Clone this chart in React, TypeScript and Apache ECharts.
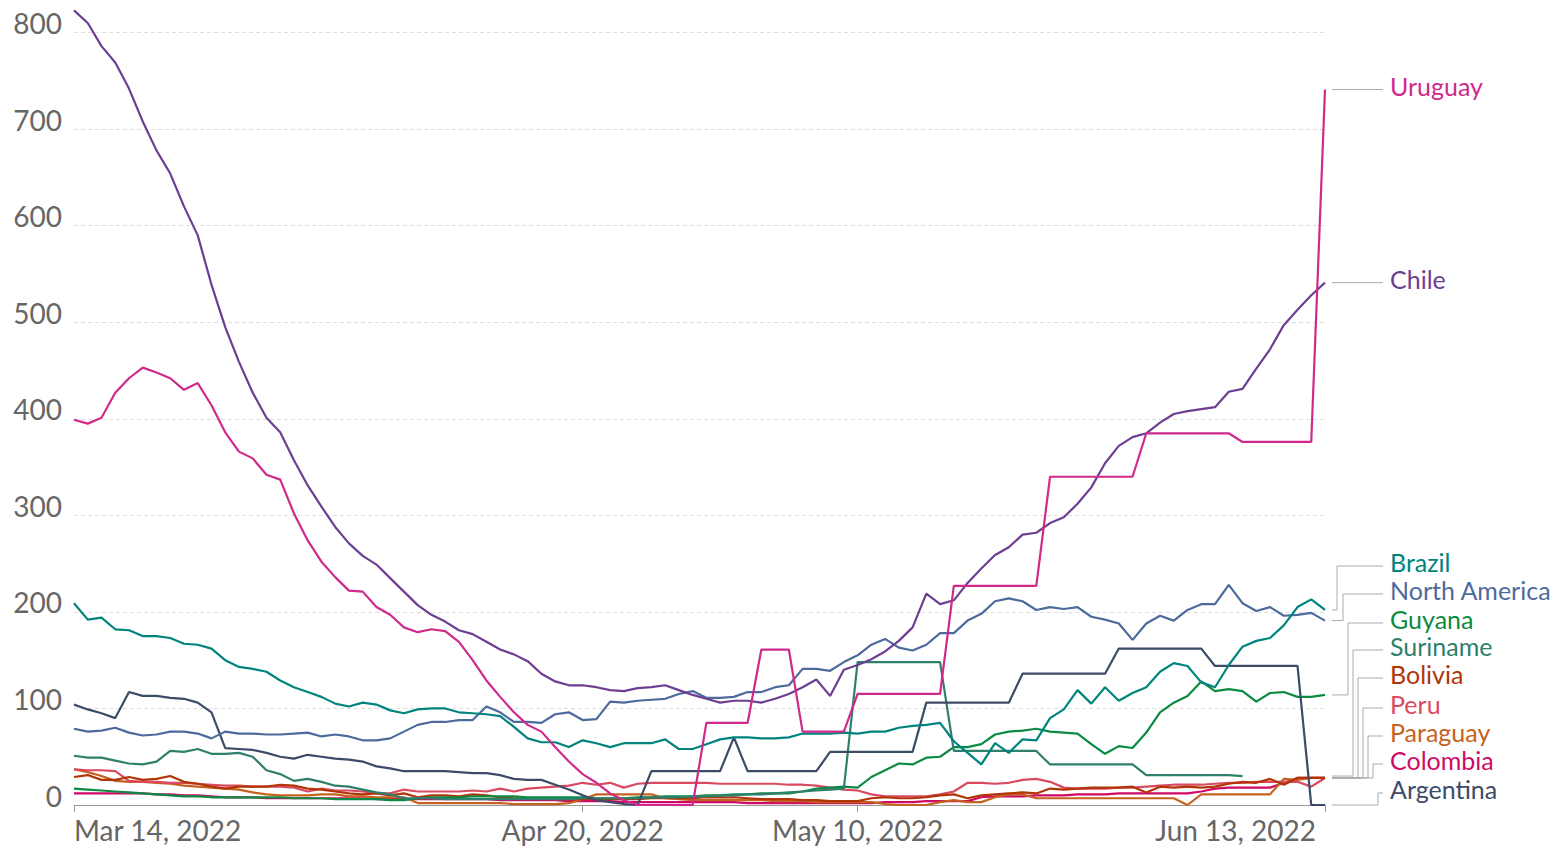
import React, { useEffect, useRef } from 'react';
import * as echarts from 'echarts';

const MONTHS = ['Jan', 'Feb', 'Mar', 'Apr', 'May', 'Jun', 'Jul', 'Aug', 'Sep', 'Oct', 'Nov', 'Dec'];
const DAY_COUNT = 92;
const dates: string[] = Array.from({ length: DAY_COUNT }, (_, i) => {
  const d = new Date(2022, 2, 14 + i);
  return `${MONTHS[d.getMonth()]} ${d.getDate()}, ${d.getFullYear()}`;
});
const tickLabels = ['Mar 14, 2022', 'Apr 20, 2022', 'May 10, 2022', 'Jun 13, 2022'];
const yTicks = [0, 100, 200, 300, 400, 500, 600, 700, 800];

const chile = [823, 810, 786, 769, 742, 708, 678, 654, 620, 590,
  539, 495, 459, 427, 401, 386, 357, 331, 309, 288,
  271, 258, 249, 235, 221, 207, 197, 190, 181, 177,
  169, 161, 156, 149, 136, 128, 124, 124, 122, 119,
  118, 121, 122, 124, 119, 114, 110, 106, 108, 108,
  106, 110, 115, 122, 130, 113, 140, 145, 151, 159,
  170, 184, 219, 208, 212, 230, 245, 259, 267, 280,
  282, 292, 298, 312, 329, 354, 372, 381, 385, 396,
  405, 408, 410, 412, 428, 431, 452, 472, 497, 513,
  528, 541];
const uruguay = [399, 395, 401, 427, 442, 453, 448, 442, 430, 437,
  414, 386, 366, 359, 342, 337, 302, 274, 252, 236,
  222, 221, 205, 197, 184, 179, 182, 180, 169, 150,
  129, 112, 96, 83, 76, 60, 45, 32, 23, 12,
  5, 0, 0, 0, 0, 0, 85, 85, 85, 85,
  161, 161, 161, 76, 76, 76, 76, 115, 115, 115,
  115, 115, 115, 115, 227, 227, 227, 227, 227, 227,
  227, 340, 340, 340, 340, 340, 340, 340, 385, 385,
  385, 385, 385, 385, 385, 376, 376, 376, 376, 376,
  376, 741];
const brazil = [209, 192, 194, 182, 181, 175, 175, 173, 167, 166,
  162, 150, 143, 141, 138, 129, 122, 117, 112, 105,
  102, 106, 104, 98, 95, 99, 100, 100, 96, 95,
  94, 92, 81, 69, 65, 65, 60, 67, 64, 60,
  64, 64, 64, 68, 58, 58, 63, 68, 70, 70,
  69, 69, 70, 74, 74, 74, 75, 74, 76, 76,
  80, 82, 83, 85, 66, 54, 42, 64, 54, 68,
  67, 90, 99, 119, 105, 122, 108, 116, 122, 138,
  147, 144, 127, 122, 145, 164, 170, 173, 186, 205,
  213, 202];
const northAmerica = [79, 76, 77, 80, 75, 72, 73, 76, 76, 74,
  69, 76, 74, 74, 73, 73, 74, 75, 71, 73,
  71, 67, 67, 69, 76, 83, 86, 86, 88, 88,
  102, 96, 86, 86, 85, 94, 96, 88, 89, 107,
  106, 108, 109, 110, 115, 118, 111, 111, 112, 117,
  117, 122, 124, 141, 141, 139, 148, 155, 166, 172,
  163, 160, 166, 178, 178, 191, 198, 211, 214, 211,
  202, 205, 203, 205, 195, 192, 188, 171, 188, 196,
  191, 202, 208, 208, 228, 209, 201, 205, 196, 197,
  199, 191];
const guyana = [17, 16, 15, 14, 13, 12, 11, 10, 9, 9,
  8, 8, 8, 8, 8, 8, 7, 7, 7, 6,
  6, 6, 6, 5, 5, 7, 8, 8, 8, 9,
  9, 9, 9, 8, 8, 8, 8, 8, 7, 7,
  7, 8, 8, 9, 9, 9, 10, 10, 11, 11,
  12, 12, 12, 14, 17, 18, 19, 18, 29, 36,
  43, 42, 49, 50, 60, 60, 63, 73, 76, 77,
  79, 76, 75, 74, 63, 53, 61, 59, 75, 96,
  106, 113, 128, 118, 120, 118, 107, 116, 117, 112,
  112, 114];
const suriname = [51, 49, 49, 46, 43, 42, 45, 56, 55, 58,
  53, 53, 54, 50, 36, 32, 25, 27, 24, 20,
  19, 16, 13, 11, 7, 7, 7, 6, 6, 6,
  6, 6, 6, 6, 6, 6, 6, 7, 7, 7,
  7, 7, 8, 8, 8, 9, 9, 10, 10, 11,
  11, 12, 13, 14, 15, 16, 17, 148, 148, 148,
  148, 148, 148, 148, 56, 56, 56, 56, 56, 56,
  56, 42, 42, 42, 42, 42, 42, 42, 31, 31,
  31, 31, 31, 31, 31, 30, null, null, null, null,
  null, null];
const bolivia = [29, 31, 26, 26, 29, 26, 27, 30, 24, 22,
  19, 17, 19, 19, 19, 21, 20, 17, 16, 14,
  12, 11, 12, 10, 12, 8, 10, 10, 9, 11,
  10, 8, 7, 7, 7, 6, 6, 6, 6, 6,
  6, 6, 7, 7, 7, 7, 8, 8, 8, 7,
  6, 6, 6, 5, 5, 4, 4, 4, 7, 8,
  7, 7, 8, 10, 11, 7, 10, 11, 12, 13,
  12, 17, 16, 17, 18, 18, 18, 19, 13, 19,
  18, 19, 18, 19, 22, 24, 23, 27, 21, 28,
  28, 28];
const peru = [37, 36, 36, 35, 25, 24, 24, 23, 23, 22,
  21, 20, 20, 19, 19, 19, 18, 14, 17, 15,
  15, 14, 12, 12, 16, 14, 14, 14, 14, 15,
  14, 17, 14, 17, 18, 19, 20, 23, 21, 23,
  18, 22, 23, 23, 23, 23, 23, 22, 22, 22,
  22, 22, 21, 21, 20, 18, 16, 15, 11, 9,
  9, 9, 9, 11, 14, 23, 23, 22, 23, 26,
  27, 24, 18, 17, 17, 17, 18, 18, 19, 20,
  21, 21, 21, 22, 23, 23, 24, 24, 24, 24,
  19, 28];
const paraguay = [37, 34, 30, 25, 24, 24, 23, 22, 20, 19,
  18, 17, 16, 13, 11, 10, 10, 10, 11, 11,
  9, 9, 8, 8, 8, 2, 2, 2, 2, 2,
  2, 2, 1, 1, 1, 1, 2, 6, 11, 11,
  11, 11, 11, 7, 6, 5, 5, 5, 5, 5,
  5, 4, 4, 4, 3, 3, 3, 3, 3, 1,
  0, 0, 0, 3, 5, 3, 3, 8, 11, 11,
  7, 7, 7, 7, 7, 7, 7, 7, 7, 7,
  7, 0, 11, 11, 11, 11, 11, 11, 27, 26,
  28, 28];
const colombia = [12, 12, 12, 12, 12, 12, 11, 11, 10, 10,
  9, 8, 8, 8, 7, 7, 7, 7, 7, 7,
  7, 7, 6, 6, 6, 6, 6, 6, 6, 6,
  6, 5, 5, 5, 5, 5, 4, 4, 4, 4,
  3, 3, 3, 3, 3, 3, 3, 3, 3, 2,
  2, 2, 2, 2, 2, 2, 2, 2, 2, 3,
  3, 3, 4, 4, 4, 4, 8, 9, 9, 9,
  10, 10, 10, 11, 11, 11, 12, 12, 12, 12,
  12, 12, 14, 17, 18, 18, 18, 18, 23, 28,
  28, 28];
const argentina = [104, 99, 95, 90, 117, 113, 113, 111, 110, 106,
  96, 59, 58, 57, 54, 50, 48, 52, 50, 48,
  47, 45, 40, 38, 35, 35, 35, 35, 34, 33,
  33, 31, 27, 26, 26, 21, 16, 10, 5, 3,
  1, 0, 35, 35, 35, 35, 35, 35, 70, 35,
  35, 35, 35, 35, 35, 55, 55, 55, 55, 55,
  55, 55, 106, 106, 106, 106, 106, 106, 106, 136,
  136, 136, 136, 136, 136, 136, 162, 162, 162, 162,
  162, 162, 162, 144, 144, 144, 144, 144, 144, 144,
  0, 0];

const seriesNames = ['Uruguay', 'Chile', 'Brazil', 'North America', 'Guyana', 'Suriname', 'Bolivia', 'Peru', 'Paraguay', 'Colombia', 'Argentina'];
const seriesValues = [uruguay, chile, brazil, northAmerica, guyana, suriname, bolivia, peru, paraguay, colombia, argentina];
const seriesColors = ['#CF2A8B', '#6D3E91', '#00847E', '#4C6A9C', '#0C8A44', '#2E7F6B', '#B13507', '#D94A60', '#C66220', '#CF0A66', '#3C4B68'];

// label layout (right-hand legend): line y of each label, elbow x of each connector
const labelLineY = [null, null, 566, 594, 623, 650, 678, 708, 736, 764, 793];
const elbowX = [1358, 1358, 1337, 1343, 1348, 1353, 1358, 1363, 1368, 1373, 1378];

const FONT = 'Lato, "Noto Sans", sans-serif';

export default function App() {
  const ref = useRef<HTMLDivElement>(null);
  useEffect(() => {
    if (!ref.current) return;
    const chart = echarts.init(ref.current, undefined, { renderer: 'svg' });
    const drawOrder = [9, 8, 7, 6, 4, 5, 10, 3, 2, 1, 0];
    chart.setOption({
      animation: false,
      backgroundColor: '#ffffff',
      grid: { left: 74, right: 232, top: 32.6, bottom: 44, containLabel: false },
      xAxis: {
        type: 'category',
        data: dates,
        boundaryGap: false,
        axisLine: { show: true, lineStyle: { color: '#999', width: 1 } },
        axisTick: {
          show: true,
          length: 7,
          lineStyle: { color: '#999' },
          interval: (_i: number, v: string) => tickLabels.includes(v),
        },
        axisLabel: {
          interval: (_i: number, v: string) => tickLabels.includes(v),
          color: '#666',
          fontFamily: FONT,
          fontSize: 28,
          margin: 11,
          alignMinLabel: 'left',
          alignMaxLabel: 'right',
          showMinLabel: true,
          showMaxLabel: true,
          formatter: (v: string) => (v === tickLabels[3] ? '{r|' + v + '}' : v),
          rich: { r: { padding: [0, 9, 0, 0], fontSize: 28, fontFamily: FONT, color: '#666' } },
        },
        splitLine: { show: false },
      },
      yAxis: {
        type: 'value',
        min: yTicks[0],
        max: yTicks[yTicks.length - 1],
        interval: 100,
        axisLine: { show: false },
        axisTick: { show: false },
        axisLabel: {
          color: '#666',
          fontFamily: FONT,
          fontSize: 28,
          margin: 12,
          verticalAlign: 'bottom',
          lineHeight: 19,
        },
        splitLine: { show: true, lineStyle: { color: '#dddddd', type: [4, 3], width: 1 } },
      },
      series: drawOrder.map((k) => ({
        name: seriesNames[k],
        type: 'line',
        data: seriesValues[k],
        showSymbol: false,
        symbol: 'none',
        clip: false,
        connectNulls: false,
        lineStyle: { color: seriesColors[k], width: 2.2 },
        itemStyle: { color: seriesColors[k] },
        emphasis: { disabled: true },
        z: 2 + drawOrder.indexOf(k) / 100,
      })),
    });

    const graphics: any[] = [];
    seriesValues.forEach((vals, k) => {
      let last = vals.length - 1;
      while (last >= 0 && vals[last] == null) last--;
      const p = chart.convertToPixel({ gridIndex: 0 }, [last, vals[last] as number]) as number[];
      const endY = p[1];
      const lineY = labelLineY[k] == null ? endY : (labelLineY[k] as number);
      const ex = elbowX[k];
      graphics.push({
        type: 'polyline',
        silent: true,
        shape: { points: [[1332, endY], [ex, endY], [ex, lineY], [1383, lineY]] },
        style: { stroke: '#aaaaaa', lineWidth: 1, fill: null },
      });
      graphics.push({
        type: 'text',
        silent: true,
        x: 1390,
        y: lineY - 4,
        style: {
          text: seriesNames[k],
          fill: seriesColors[k],
          font: `25px ${FONT}`,
          textAlign: 'left',
          textVerticalAlign: 'middle',
        },
      });
    });
    chart.setOption({ graphic: graphics });

    return () => chart.dispose();
  }, []);
  return <div ref={ref} style={{ position: 'absolute', left: 0, top: 0, width: 1557, height: 849 }} />;
}
